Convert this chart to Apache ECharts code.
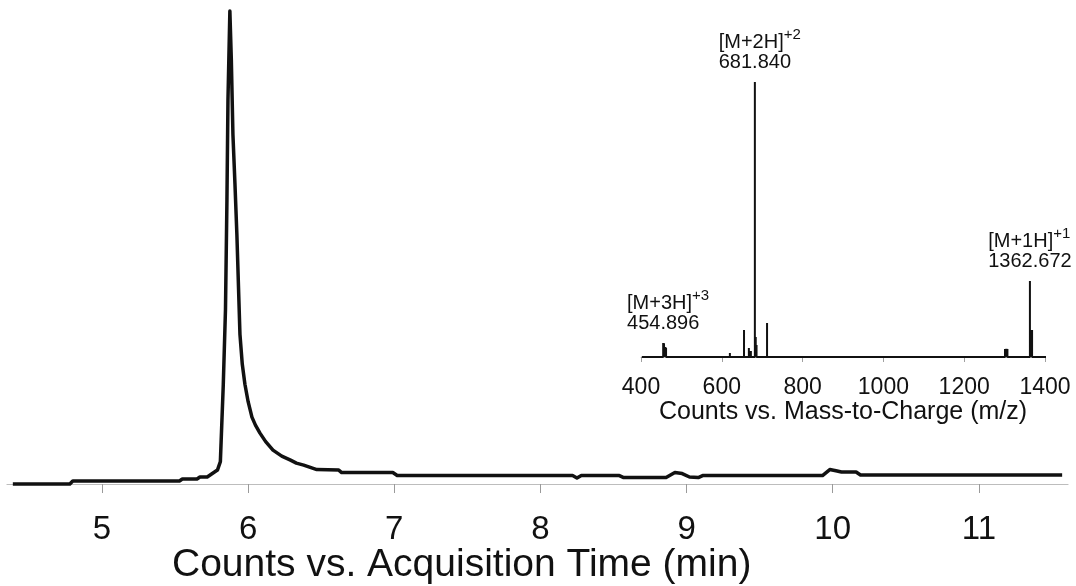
<!DOCTYPE html>
<html>
<head>
<meta charset="utf-8">
<script src="https://cdn.jsdelivr.net/npm/echarts@6/dist/echarts.min.js"></script>
<style>
  html, body { margin: 0; padding: 0; background: #fff; }
  #chart { width: 1076px; height: 586px; }
</style>
</head>
<body>
<div id="chart"></div>
<script>
// Total ion chromatogram: retention time (min) and relative signal
const timeMin = [
  4.39, 4.78, 4.80, 5.53, 5.55, 5.65, 5.67, 5.72, 5.74, 5.76, 5.79, 5.81,
  5.83, 5.845, 5.855, 5.862, 5.875, 5.885, 5.896, 5.91, 5.923, 5.944, 5.96,
  5.978, 6.00, 6.026, 6.05, 6.081, 6.12, 6.17, 6.23, 6.29, 6.33, 6.38, 6.42,
  6.47, 6.62, 6.64, 6.99, 7.02, 8.22, 8.25, 8.28, 8.54, 8.57, 8.86, 8.92,
  8.97, 9.02, 9.08, 9.11, 9.93, 9.98, 10.03, 10.06, 10.16, 10.19, 11.57
];
const signal = [
  0.0, 0.0, 0.6, 0.6, 1.0, 1.0, 1.4, 1.4, 1.8, 2.2, 2.8, 4.5,
  20, 35, 57, 77, 94.8, 85, 70, 60, 50, 30, 24,
  20, 16.5, 13.4, 11.8, 10.2, 8.5, 6.8, 5.6, 4.8, 4.2, 3.8, 3.4,
  2.9, 2.8, 2.3, 2.3, 1.7, 1.7, 1.2, 1.7, 1.7, 1.3, 1.3, 2.3,
  2.1, 1.4, 1.3, 1.7, 1.7, 2.9, 2.6, 2.4, 2.4, 1.8, 1.8
];
const timeTicks = [5, 6, 7, 8, 9, 10, 11];

// Mass spectrum of the main peak: m/z and relative abundance (%)
const specRange = [402, 1404];
const peakMz = [
  454.896, 457, 460, 462, 479, 588, 620, 655, 667, 672, 681.840, 684, 686,
  712, 741, 781, 1232, 1301, 1304, 1307, 1362.672, 1366, 1368, 1385
];
const peakAbund = [
  5.1, 5.0, 3.6, 3.4, 0.4, 0.4, 1.5, 9.8, 3.3, 2.2, 100, 7.3, 4.4,
  12.4, 0.5, 0.5, 0.7, 2.9, 2.9, 2.9, 27.6, 9.8, 9.8, 0.7
];
const mzTicks = [400, 600, 800, 1000, 1200, 1400];

// Annotated ions
const ionMz = [454.896, 681.840, 1362.672];
const ionAbund = [5.1, 100, 27.6];
const ionName = ['[M+3H]', '[M+2H]', '[M+1H]'];
const ionCharge = ['+3', '+2', '+1'];

const FONT = "'Liberation Sans', Arial, Helvetica, sans-serif";
const INK = '#111111';
const NUM_SIZE = 20;

const chromData = timeMin.map((t, i) => [t, signal[i]]);

// stick spectrum drawn as one polyline along the baseline
const stickData = [[specRange[0], 0]];
peakMz.forEach((m, i) => {
  stickData.push([m, 0], [m, peakAbund[i]], [m, 0]);
});
stickData.push([specRange[1], 0]);

// half width of the m/z text, so the label block starts left of its peak
const measure = document.createElement('canvas').getContext('2d');
measure.font = NUM_SIZE + 'px ' + FONT;
function halfWidth(s) { return measure.measureText(s).width / 2; }

const ionData = ionMz.map((m, i) => ({
  value: [m, ionAbund[i]],
  label: { offset: [-halfWidth(m.toFixed(3)), 0] }
}));

const plain = v => String(v);

const chart = echarts.init(document.getElementById('chart'), null, { renderer: 'canvas' });

chart.setOption({
  animation: false,
  backgroundColor: '#ffffff',
  grid: [
    { left: 7, right: 8, top: 10, bottom: 87 },
    { left: 641, right: 31, top: 82, bottom: 229 }
  ],
  xAxis: [
    {
      gridIndex: 0, type: 'value', min: 4.35, max: 11.61,
      splitLine: { show: false },
      axisLine: { show: true, lineStyle: { color: '#bdbdbd', width: 1.2 } },
      axisTick: { show: true, customValues: timeTicks, length: 9, lineStyle: { color: '#9a9a9a', width: 1 } },
      axisLabel: { customValues: timeTicks, formatter: plain, margin: 14, fontFamily: FONT, fontSize: 33, color: INK }
    },
    {
      gridIndex: 1, type: 'value', min: 400, max: 1400, offset: 12,
      splitLine: { show: false },
      axisLine: { show: true, lineStyle: { color: '#c4c4c4', width: 1 } },
      axisTick: { show: true, customValues: mzTicks, length: 5, lineStyle: { color: '#a0a0a0', width: 1 } },
      axisLabel: { customValues: mzTicks, formatter: plain, margin: 7, fontFamily: FONT, fontSize: 23, color: INK },
      name: 'Counts vs. Mass-to-Charge (m/z)',
      nameLocation: 'middle', nameGap: 27,
      nameTextStyle: { fontFamily: FONT, fontSize: 25, color: INK }
    }
  ],
  yAxis: [
    { gridIndex: 0, type: 'value', min: -3, max: 95, show: false },
    { gridIndex: 1, type: 'value', min: 0, max: 100, show: false }
  ],
  series: [
    {
      name: 'TIC', type: 'line', xAxisIndex: 0, yAxisIndex: 0,
      data: chromData, showSymbol: false, clip: false,
      lineStyle: { color: INK, width: 3.5, join: 'round' }
    },
    {
      name: 'Spectrum', type: 'line', xAxisIndex: 1, yAxisIndex: 1,
      data: stickData, showSymbol: false, clip: false,
      lineStyle: { color: INK, width: 2, join: 'bevel' }
    },
    {
      name: 'Ions', type: 'scatter', xAxisIndex: 1, yAxisIndex: 1,
      data: ionData, symbolSize: 0, silent: true,
      label: {
        show: true, position: 'top', distance: 8, align: 'left',
        color: INK, textBorderWidth: 0, opacity: 1,
        formatter: p => {
          const i = p.dataIndex;
          return '{ion|' + ionName[i] + '}{sup|' + ionCharge[i] + '}\n{num|' + ionMz[i].toFixed(3) + '}';
        },
        rich: {
          ion: { fontFamily: FONT, fontSize: NUM_SIZE, color: INK, lineHeight: 24, padding: [7, 0, 0, 0] },
          sup: { fontFamily: FONT, fontSize: 15, color: INK, verticalAlign: 'top', lineHeight: 16 },
          num: { fontFamily: FONT, fontSize: NUM_SIZE, color: INK, lineHeight: 23 }
        }
      }
    }
  ],
  graphic: [
    {
      type: 'text', left: 172, top: 546,
      style: { text: 'Counts vs. Acquisition Time (min)', font: '39px ' + FONT, fill: INK }
    }
  ]
});
</script>
</body>
</html>
